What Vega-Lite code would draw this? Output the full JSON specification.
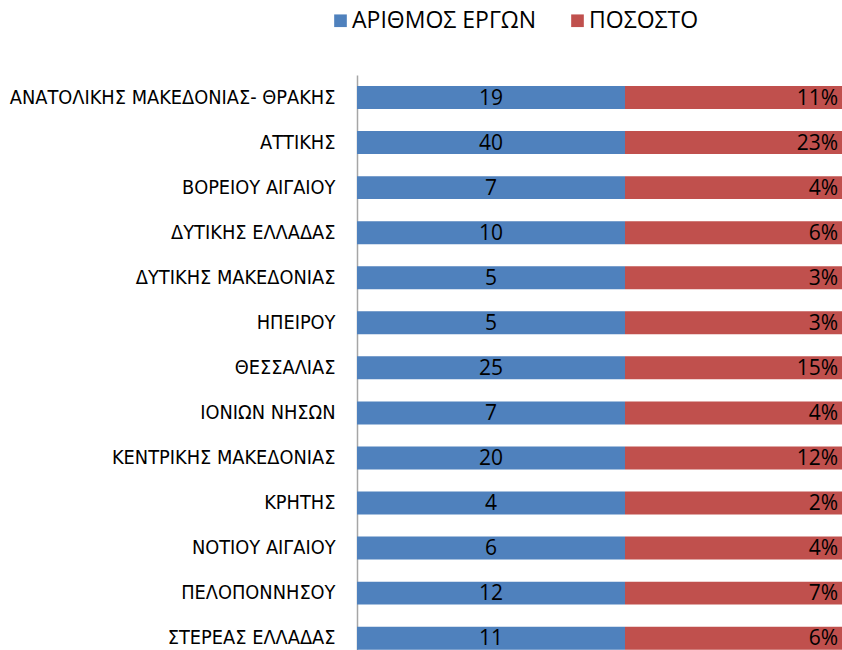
{
  "$schema": "https://vega.github.io/schema/vega-lite/v6.json",
  "autosize": "none",
  "width": 485,
  "height": 575,
  "padding": {"left": 357, "top": 75, "right": 0, "bottom": 0},
  "background": "white",
  "config": {"view": {"stroke": null}},
  "data": {
    "values": [
      {"region": "ΑΝΑΤΟΛΙΚΗΣ ΜΑΚΕΔΟΝΙΑΣ- ΘΡΑΚΗΣ", "series": "ΑΡΙΘΜΟΣ ΕΡΓΩΝ", "label": "19"},
      {"region": "ΑΝΑΤΟΛΙΚΗΣ ΜΑΚΕΔΟΝΙΑΣ- ΘΡΑΚΗΣ", "series": "ΠΟΣΟΣΤΟ", "label": "11%"},
      {"region": "ΑΤΤΙΚΗΣ", "series": "ΑΡΙΘΜΟΣ ΕΡΓΩΝ", "label": "40"},
      {"region": "ΑΤΤΙΚΗΣ", "series": "ΠΟΣΟΣΤΟ", "label": "23%"},
      {"region": "ΒΟΡΕΙΟΥ ΑΙΓΑΙΟΥ", "series": "ΑΡΙΘΜΟΣ ΕΡΓΩΝ", "label": "7"},
      {"region": "ΒΟΡΕΙΟΥ ΑΙΓΑΙΟΥ", "series": "ΠΟΣΟΣΤΟ", "label": "4%"},
      {"region": "ΔΥΤΙΚΗΣ ΕΛΛΑΔΑΣ", "series": "ΑΡΙΘΜΟΣ ΕΡΓΩΝ", "label": "10"},
      {"region": "ΔΥΤΙΚΗΣ ΕΛΛΑΔΑΣ", "series": "ΠΟΣΟΣΤΟ", "label": "6%"},
      {"region": "ΔΥΤΙΚΗΣ ΜΑΚΕΔΟΝΙΑΣ", "series": "ΑΡΙΘΜΟΣ ΕΡΓΩΝ", "label": "5"},
      {"region": "ΔΥΤΙΚΗΣ ΜΑΚΕΔΟΝΙΑΣ", "series": "ΠΟΣΟΣΤΟ", "label": "3%"},
      {"region": "ΗΠΕΙΡΟΥ", "series": "ΑΡΙΘΜΟΣ ΕΡΓΩΝ", "label": "5"},
      {"region": "ΗΠΕΙΡΟΥ", "series": "ΠΟΣΟΣΤΟ", "label": "3%"},
      {"region": "ΘΕΣΣΑΛΙΑΣ", "series": "ΑΡΙΘΜΟΣ ΕΡΓΩΝ", "label": "25"},
      {"region": "ΘΕΣΣΑΛΙΑΣ", "series": "ΠΟΣΟΣΤΟ", "label": "15%"},
      {"region": "ΙΟΝΙΩΝ ΝΗΣΩΝ", "series": "ΑΡΙΘΜΟΣ ΕΡΓΩΝ", "label": "7"},
      {"region": "ΙΟΝΙΩΝ ΝΗΣΩΝ", "series": "ΠΟΣΟΣΤΟ", "label": "4%"},
      {"region": "ΚΕΝΤΡΙΚΗΣ ΜΑΚΕΔΟΝΙΑΣ", "series": "ΑΡΙΘΜΟΣ ΕΡΓΩΝ", "label": "20"},
      {"region": "ΚΕΝΤΡΙΚΗΣ ΜΑΚΕΔΟΝΙΑΣ", "series": "ΠΟΣΟΣΤΟ", "label": "12%"},
      {"region": "ΚΡΗΤΗΣ", "series": "ΑΡΙΘΜΟΣ ΕΡΓΩΝ", "label": "4"},
      {"region": "ΚΡΗΤΗΣ", "series": "ΠΟΣΟΣΤΟ", "label": "2%"},
      {"region": "ΝΟΤΙΟΥ ΑΙΓΑΙΟΥ", "series": "ΑΡΙΘΜΟΣ ΕΡΓΩΝ", "label": "6"},
      {"region": "ΝΟΤΙΟΥ ΑΙΓΑΙΟΥ", "series": "ΠΟΣΟΣΤΟ", "label": "4%"},
      {"region": "ΠΕΛΟΠΟΝΝΗΣΟΥ", "series": "ΑΡΙΘΜΟΣ ΕΡΓΩΝ", "label": "12"},
      {"region": "ΠΕΛΟΠΟΝΝΗΣΟΥ", "series": "ΠΟΣΟΣΤΟ", "label": "7%"},
      {"region": "ΣΤΕΡΕΑΣ ΕΛΛΑΔΑΣ", "series": "ΑΡΙΘΜΟΣ ΕΡΓΩΝ", "label": "11"},
      {"region": "ΣΤΕΡΕΑΣ ΕΛΛΑΔΑΣ", "series": "ΠΟΣΟΣΤΟ", "label": "6%"}
    ]
  },
  "encoding": {
    "y": {
      "field": "region",
      "type": "nominal",
      "sort": null,
      "title": null,
      "scale": {"range": [0, 585.7], "paddingInner": 0.49, "paddingOuter": 0.245},
      "axis": {
        "ticks": false,
        "domainColor": "#a6a6a6",
        "domainWidth": 1.5,
        "labelPadding": 22,
        "labelFont": "DejaVu Sans Condensed",
        "labelFontSize": 19.8,
        "labelColor": "#000000",
        "labelLimit": 400
      }
    }
  },
  "layer": [
    {
      "mark": {"type": "bar"},
      "encoding": {
        "x": {
          "field": "series",
          "type": "nominal",
          "axis": null,
          "scale": {"domain": ["ΑΡΙΘΜΟΣ ΕΡΓΩΝ", "ΠΟΣΟΣΤΟ"], "range": [0, 536], "paddingInner": 0, "paddingOuter": 0}
        },
        "color": {
          "field": "series",
          "type": "nominal",
          "title": null,
          "scale": {"domain": ["ΑΡΙΘΜΟΣ ΕΡΓΩΝ", "ΠΟΣΟΣΤΟ"], "range": ["#4F81BD", "#C0504D"]},
          "legend": {
            "orient": "none",
            "direction": "horizontal",
            "legendX": -28,
            "legendY": -66,
            "symbolType": "square",
            "symbolSize": 160,
            "symbolStrokeWidth": 0,
            "labelFont": "Open Sans",
            "labelFontSize": 23,
            "labelColor": "#000000",
            "labelOffset": 0,
            "columnPadding": 29,
            "labelLimit": 400
          }
        }
      }
    },
    {
      "transform": [{"filter": "datum.series === 'ΑΡΙΘΜΟΣ ΕΡΓΩΝ'"}],
      "mark": {"type": "text", "align": "center", "baseline": "middle", "dy": 1, "font": "Open Sans", "fontSize": 21, "color": "#000000"},
      "encoding": {
        "x": {"field": "series", "type": "nominal", "bandPosition": 0.5},
        "text": {"field": "label"}
      }
    },
    {
      "transform": [{"filter": "datum.series === 'ΠΟΣΟΣΤΟ'"}],
      "mark": {"type": "text", "align": "right", "baseline": "middle", "dy": 1, "font": "Open Sans", "fontSize": 21, "color": "#000000"},
      "encoding": {
        "x": {"field": "series", "type": "nominal", "bandPosition": 0.795},
        "text": {"field": "label"}
      }
    }
  ]
}
